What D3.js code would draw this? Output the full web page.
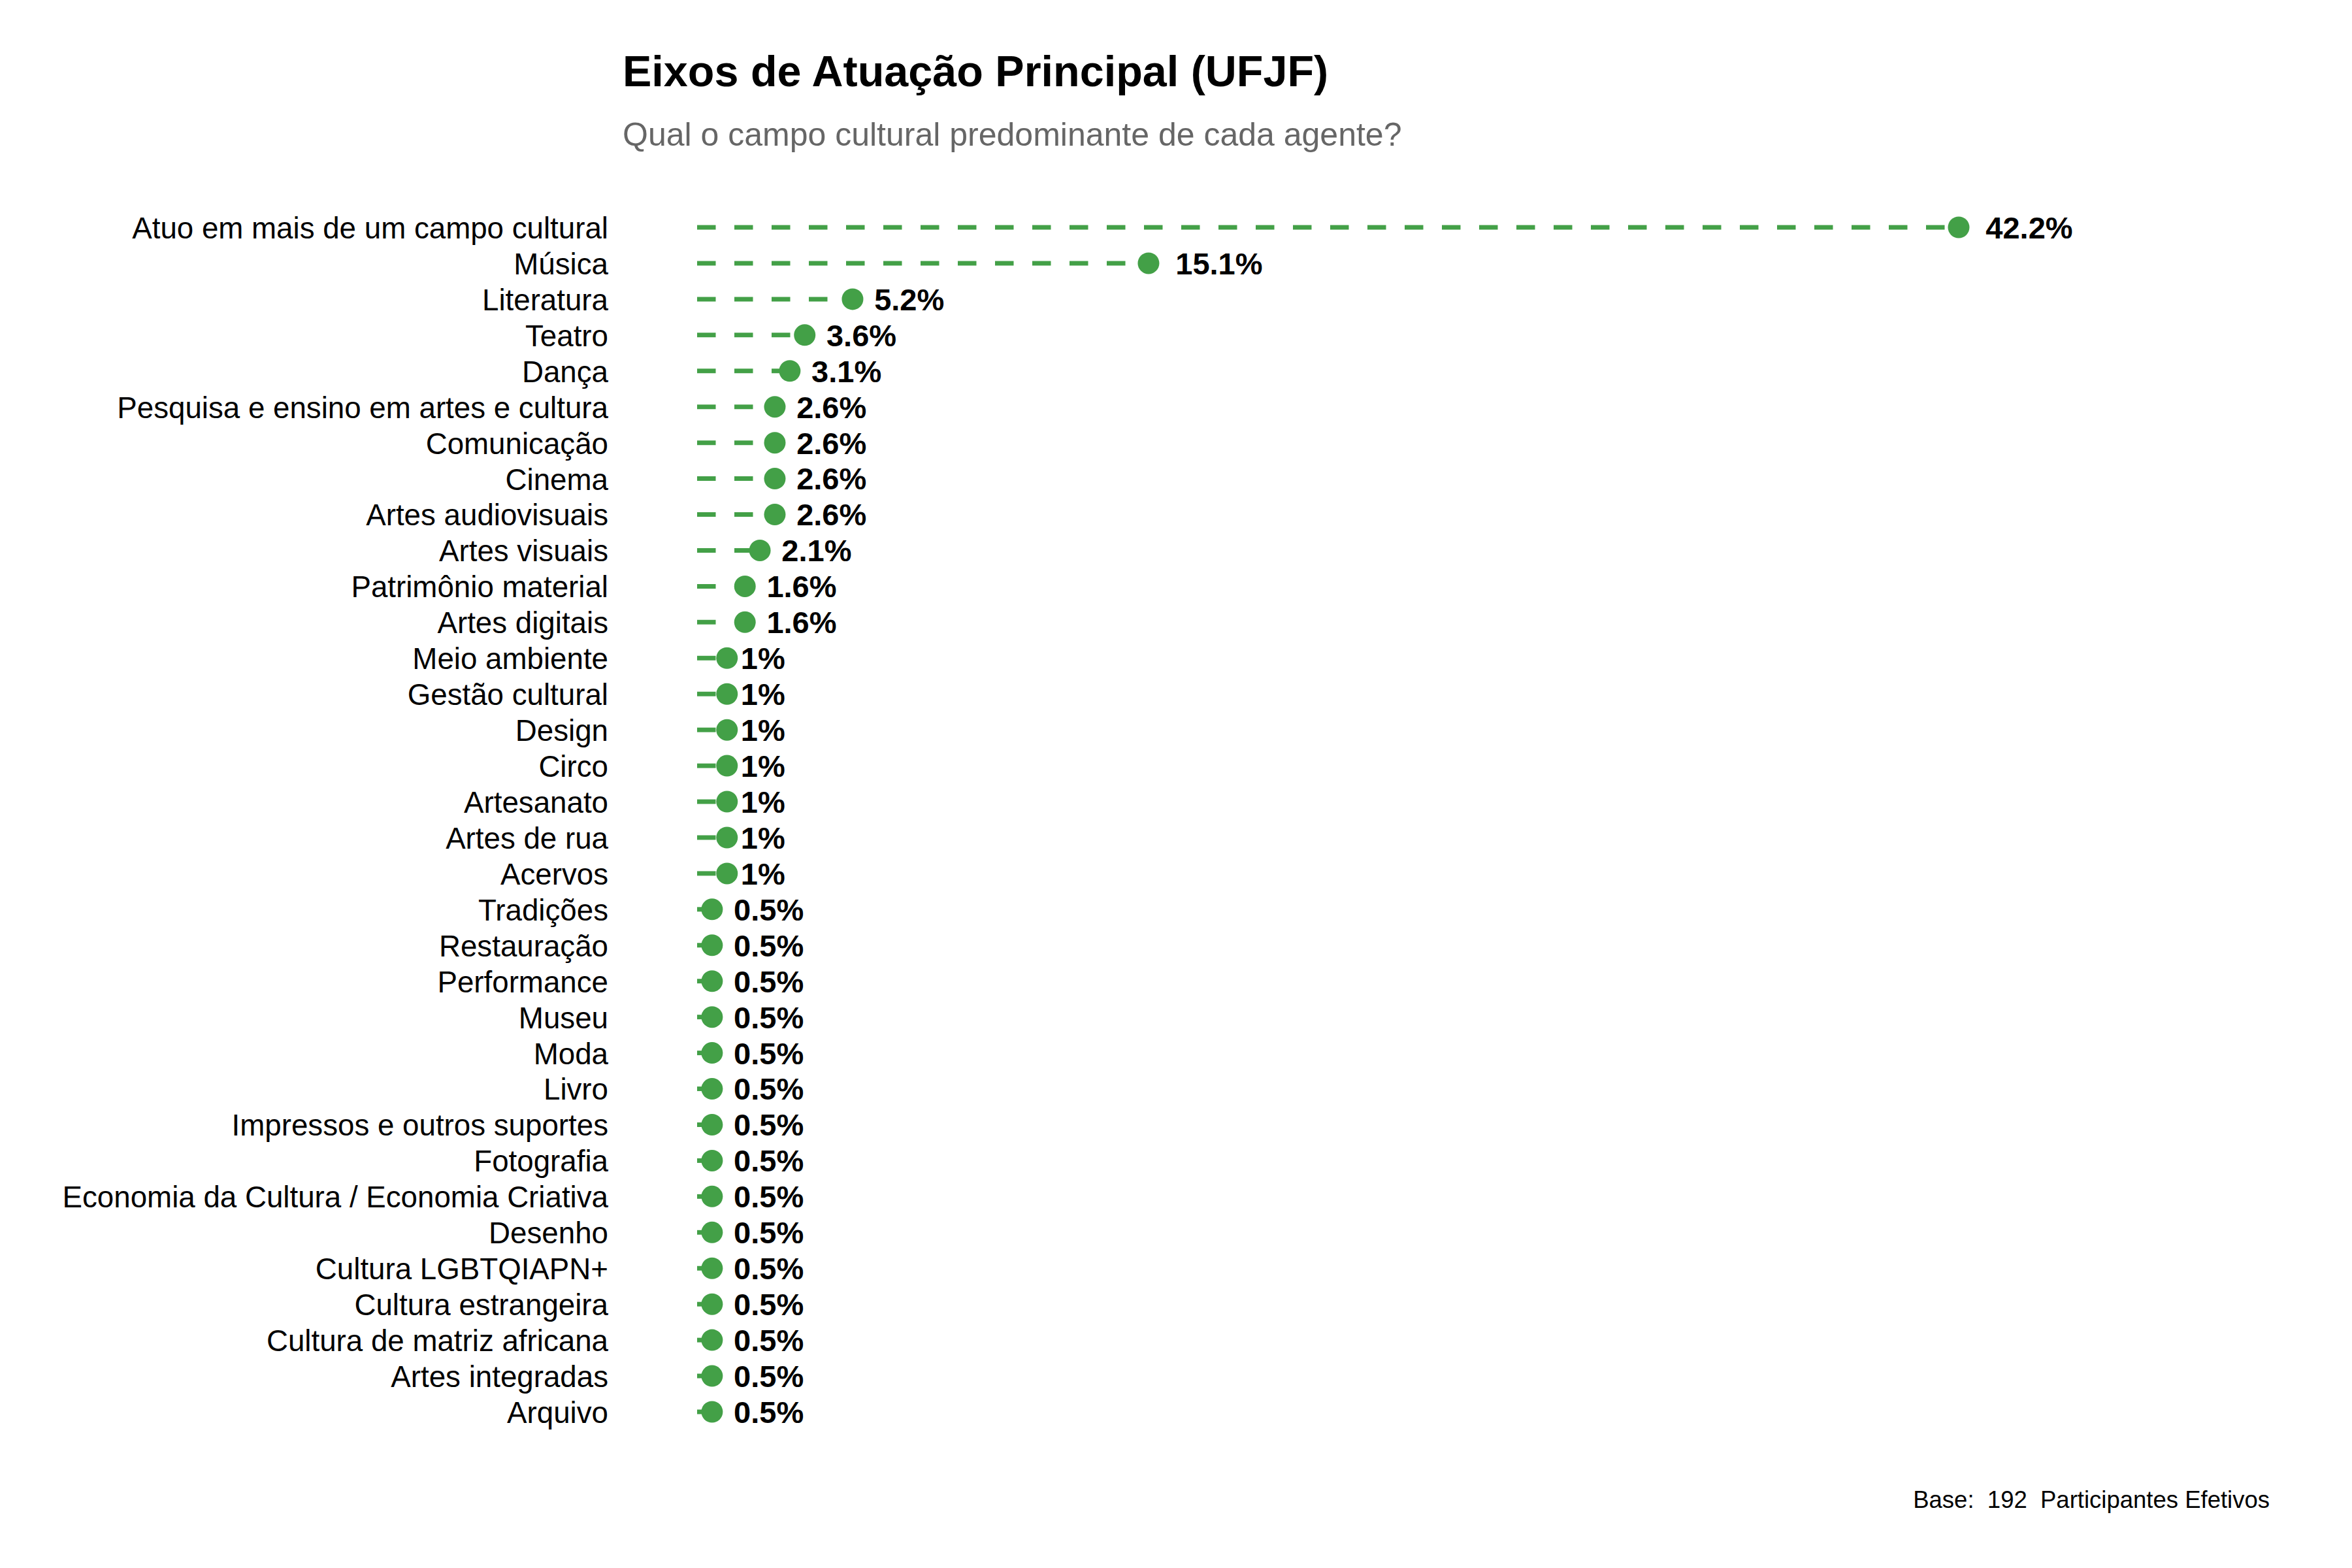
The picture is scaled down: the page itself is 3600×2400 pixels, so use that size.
<!DOCTYPE html>
<html>
<head>
<meta charset="utf-8">
<script src="https://cdn.jsdelivr.net/npm/d3@7"></script>
<style>
  body { margin: 0; background: #fff; }
  svg { font-family: "Liberation Sans", Arial, sans-serif; }
</style>
</head>
<body>
<div id="chart"></div>
<script>
var categories = [
    "Atuo em mais de um campo cultural", "Música", "Literatura", "Teatro", "Dança",
    "Pesquisa e ensino em artes e cultura", "Comunicação", "Cinema", "Artes audiovisuais",
    "Artes visuais", "Patrimônio material", "Artes digitais", "Meio ambiente",
    "Gestão cultural", "Design", "Circo", "Artesanato", "Artes de rua", "Acervos",
    "Tradições", "Restauração", "Performance", "Museu", "Moda", "Livro",
    "Impressos e outros suportes", "Fotografia", "Economia da Cultura / Economia Criativa",
    "Desenho", "Cultura LGBTQIAPN+", "Cultura estrangeira", "Cultura de matriz africana",
    "Artes integradas", "Arquivo"
];

var percents = [
    42.2, 15.1, 5.2, 3.6, 3.1,
    2.6, 2.6, 2.6, 2.6,
    2.1, 1.6, 1.6, 1,
    1, 1, 1, 1, 1, 1,
    0.5, 0.5, 0.5, 0.5, 0.5, 0.5,
    0.5, 0.5, 0.5,
    0.5, 0.5, 0.5, 0.5,
    0.5, 0.5
];

var title = "Eixos de Atuação Principal (UFJF)";
var subtitle = "Qual o campo cultural predominante de cada agente?";
var caption = "Base:  192  Participantes Efetivos";

var width = 3600,
    height = 2400;

var green = "#43a047";

var data = categories.map(function (c, i) {
    return { name: c, value: percents[i] };
});

var svg = d3.select("#chart").append("svg")
    .attr("width", width)
    .attr("height", height);

svg.append("rect")
    .attr("width", width)
    .attr("height", height)
    .attr("fill", "#fff");

var x = d3.scaleLinear()
    .domain([0, 42.2])
    .range([1067, 2998]);

var y = d3.scalePoint()
    .domain(categories)
    .range([348, 2161]);

// titles
svg.append("text")
    .attr("x", 953)
    .attr("y", 132)
    .attr("font-size", 66.5)
    .attr("font-weight", "bold")
    .attr("fill", "#000")
    .text(title);

svg.append("text")
    .attr("x", 953)
    .attr("y", 223)
    .attr("font-size", 50)
    .attr("fill", "#666666")
    .text(subtitle);

// category axis (labels only)
var yAxis = d3.axisLeft(y).tickSize(0).tickPadding(0);
var ax = svg.append("g")
    .attr("transform", "translate(931,0)")
    .call(yAxis);
ax.select(".domain").remove();
ax.selectAll("text")
    .attr("font-size", 45.7)
    .attr("font-family", "Liberation Sans, Arial, sans-serif")
    .attr("fill", "#000")
    .attr("dy", "0.36em");

// dashed segments
svg.append("g")
    .selectAll("line")
    .data(data)
    .enter().append("line")
    .attr("x1", x(0))
    .attr("x2", function (d) { return x(d.value); })
    .attr("y1", function (d) { return y(d.name); })
    .attr("y2", function (d) { return y(d.name); })
    .attr("stroke", green)
    .attr("stroke-width", 7)
    .attr("stroke-dasharray", "28.5 28.5");

// dots
svg.append("g")
    .selectAll("circle")
    .data(data)
    .enter().append("circle")
    .attr("cx", function (d) { return x(d.value); })
    .attr("cy", function (d) { return y(d.name); })
    .attr("r", 16.5)
    .attr("fill", green);

// value labels, pushed right by a share of their own width
svg.append("g")
    .selectAll("text")
    .data(data)
    .enter().append("text")
    .attr("y", function (d) { return y(d.name); })
    .attr("dy", "0.36em")
    .attr("font-size", 47)
    .attr("font-weight", "bold")
    .attr("fill", "#000")
    .text(function (d) { return d.value + "%"; })
    .attr("x", function (d) {
        var w = this.getComputedTextLength();
        return x(d.value) + 0.31 * w;
    });

// caption
svg.append("text")
    .attr("x", 3474)
    .attr("y", 2308)
    .attr("text-anchor", "end")
    .attr("font-size", 36.5)
    .attr("fill", "#000")
    .style("white-space", "pre")
    .text(caption);
</script>
</body>
</html>
